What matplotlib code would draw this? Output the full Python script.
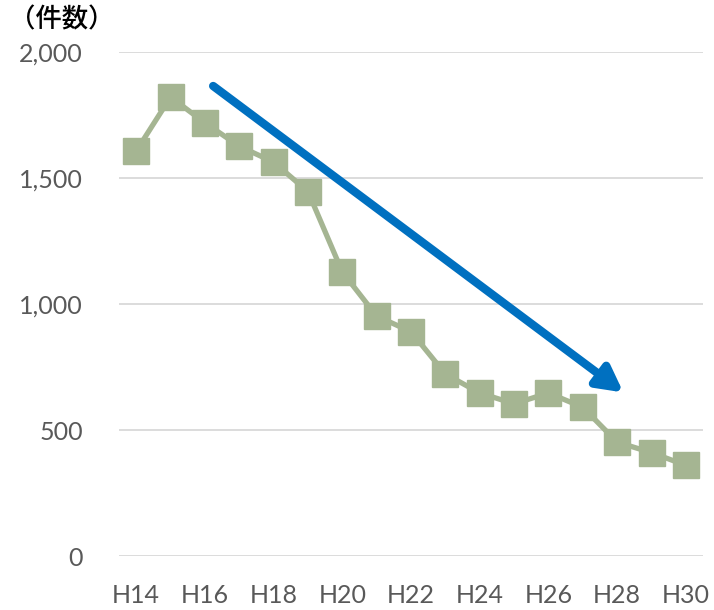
import matplotlib.pyplot as plt

years = list(range(14, 31))
counts = [1607, 1821, 1719, 1626, 1563, 1446, 1127, 952, 890, 722,
          647, 604, 647, 590, 452, 410, 360]
tick_years = list(range(14, 31, 2))
tick_labels = ["H{}".format(y) for y in tick_years]
y_ticks = [0, 500, 1000, 1500, 2000]
y_labels = ["{:,}".format(v) for v in y_ticks]

# trend arrow endpoints (year, count)
arrow_start = (16.24, 1865)
arrow_end = (28.18, 649)

fig = plt.figure(figsize=(7.14, 6.10), dpi=100)
ax = fig.add_axes([0.1667, 0.0885, 0.818, 0.8263])

ax.plot(years, counts, color="#A5B592", linewidth=3.8, marker="s",
        markersize=19, markerfacecolor="#A5B592", markeredgecolor="#A5B592",
        zorder=3)

ax.annotate("", xy=arrow_end, xytext=arrow_start,
            arrowprops=dict(arrowstyle="-|>,head_length=1.5,head_width=0.8",
                            color="#0070C0", lw=6, shrinkA=0, shrinkB=0),
            zorder=4)

ax.set_xlim(13.5, 30.5)
ax.set_ylim(0, 2000)
ax.set_xticks(tick_years)
ax.set_xticklabels(tick_labels)
ax.set_yticks(y_ticks)
ax.set_yticklabels(y_labels)
ax.grid(axis="y", color="#D9D9D9", linewidth=1.3)
ax.set_axisbelow(True)
for s in ax.spines.values():
    s.set_visible(False)
ax.tick_params(length=0, labelcolor="#595959", labelsize=18)
ax.tick_params(axis="y", pad=26)
ax.tick_params(axis="x", pad=20)
for lab in ax.get_xticklabels() + ax.get_yticklabels():
    lab.set_family("Lato")

fig.text(0.013, 0.99, "（件数）", family=["Noto Sans CJK JP", "DejaVu Sans"],
         fontsize=19, fontweight="medium", va="top", ha="left", color="#000000")

fig.savefig("out.png", dpi=100)
